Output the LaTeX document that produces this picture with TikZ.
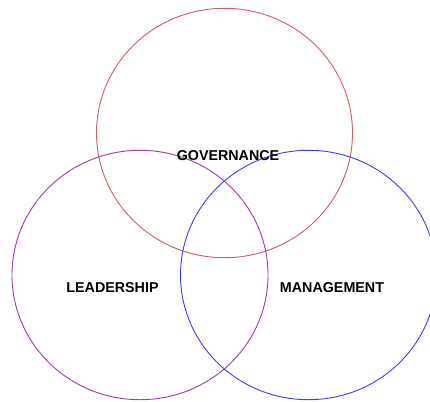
\documentclass[tikz,border=0pt]{standalone}
\usepackage{fontspec}
\setmainfont{Liberation Sans}
\usepackage{tikz}

\definecolor{govred}{RGB}{205,95,95}
\definecolor{leadpurple}{RGB}{160,60,170}
\definecolor{mgmtblue}{RGB}{60,60,255}

\begin{document}
\begin{tikzpicture}[x=1pt,y=-1pt]

      \useasboundingbox (0,0) rectangle (430,401);

      \begin{scope}[every path/.style={line width=0.9pt}]
        \draw[govred] (224.5,133) ellipse (128 and 124.7);
        \draw[leadpurple] (140,275) ellipse (128 and 124.7);
        \draw[mgmtblue] (308.5,275) ellipse (128 and 124.7);
      \end{scope}

      \begin{scope}[every node/.style={font=\fontsize{14.3}{17}\selectfont\bfseries,inner sep=0pt}]
        \node (gov) at (228,156) {GOVERNANCE};
        \node (lead) at (112.5,288) {LEADERSHIP};
        \node (mgmt) at (332,288) {MANAGEMENT};
      \end{scope}

    \end{tikzpicture}
\end{document}
